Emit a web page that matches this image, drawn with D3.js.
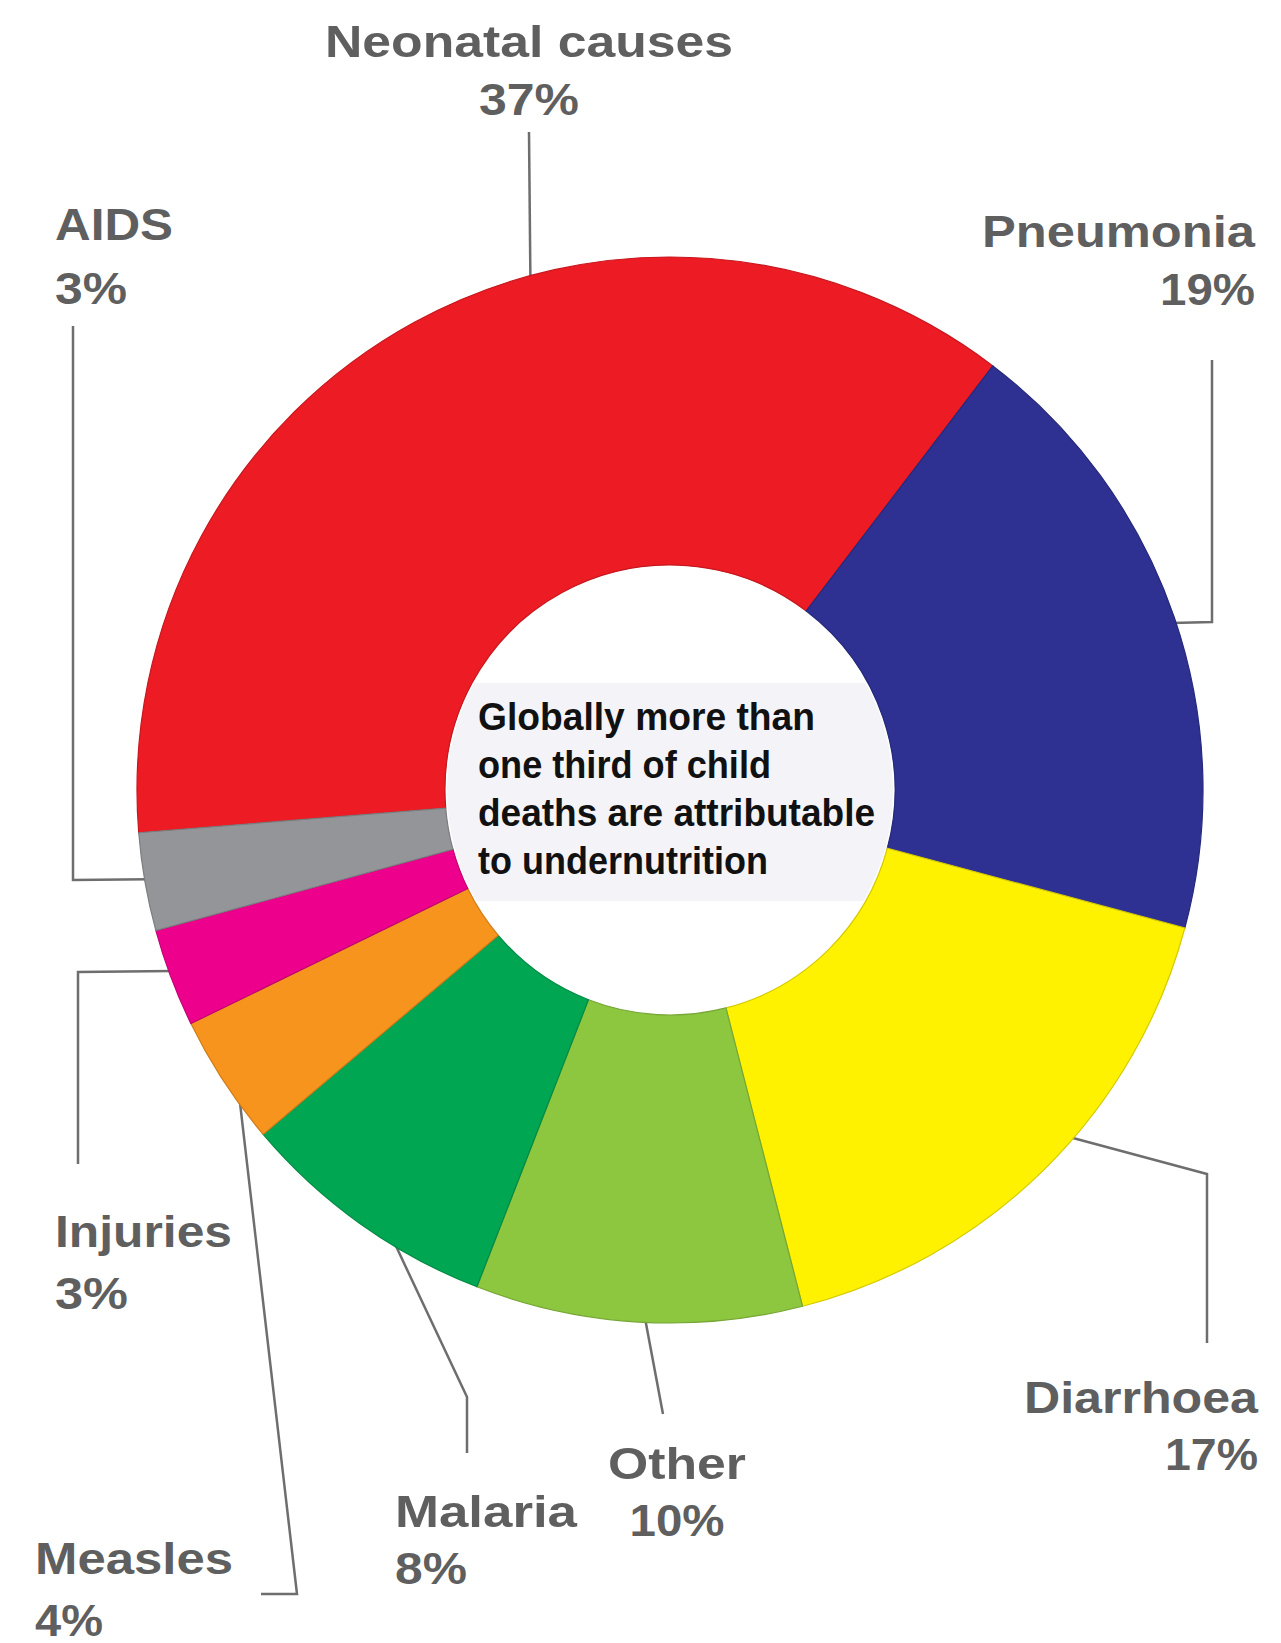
<!DOCTYPE html>
<html>
<head>
<meta charset="utf-8">
<script src="https://cdn.jsdelivr.net/npm/d3@7"></script>
<style>
  body { margin: 0; background: #fff; }
  .label { font-family: "Liberation Sans", Arial, sans-serif; font-weight: bold; fill: #5f5f5f; }
  .leader { fill: none; stroke: #6e6e6e; stroke-width: 2.5; }
  .center-text { font-family: "Liberation Sans", Arial, sans-serif; font-weight: bold; fill: #111; }
</style>
</head>
<body>
<svg id="chart"></svg>
<script>
// causes of child deaths, clockwise from the left
const causes = ["Neonatal causes", "Pneumonia", "Diarrhoea", "Other", "Malaria", "Measles", "Injuries", "AIDS"];
const shares = [37, 19, 17, 10, 8, 4, 3, 3];
const sliceColors = ["#ed1c24", "#2e3192", "#fff200", "#8dc63f", "#00a651", "#f7941d", "#ec008c", "#939598"];
const centerLines = ["Globally more than", "one third of child", "deaths are attributable", "to undernutrition"];

const width = 1281, height = 1643;
const cx = 670, cy = 790;
const outerR = 533, innerR = 225;
const rad = d => d * Math.PI / 180;
const startAngle = rad(-94.6);

// where each label sits and how its leader runs to the ring
const labelLayout = {
  "Neonatal causes": { x: 529, y: 57, dy: 58, anchor: "middle", w: [408, 100], path: [[529, 132]], attach: -15.3 },
  "AIDS":            { x: 55, y: 240, dy: 64, anchor: "start", w: [118, 72], path: [[73, 326], [73, 880]], attach: 260.3 },
  "Pneumonia":       { x: 1255, y: 247, dy: 58, anchor: "end", w: [273, 95], path: [[1212, 360], [1212, 622]], attach: 71.6 },
  "Diarrhoea":       { x: 1258, y: 1413, dy: 57, anchor: "end", w: [234, 93], path: [[1207, 1343], [1207, 1174]], attach: 131 },
  "Other":           { x: 677, y: 1479, dy: 57, anchor: "middle", w: [138, 95], path: [[663, 1414]], attach: 182.7 },
  "Malaria":         { x: 395, y: 1527, dy: 57, anchor: "start", w: [182, 72], path: [[467, 1453], [467, 1397]], attach: 211.5 },
  "Measles":         { x: 35, y: 1574, dy: 62, anchor: "start", w: [198, 68], path: [[261, 1594], [297, 1594]], attach: 234.5 },
  "Injuries":        { x: 55, y: 1247, dy: 62, anchor: "start", w: [177, 73], path: [[78, 1164], [78, 972]], attach: 250 }
};

const svg = d3.select("#chart").attr("width", width).attr("height", height);
svg.append("rect").attr("width", width).attr("height", height).attr("fill", "#fff");

const data = causes.map((c, i) => ({ cause: c, share: shares[i], color: sliceColors[i] }));

const pie = d3.pie().sort(null).value(d => d.share)
  .startAngle(startAngle).endAngle(startAngle + 2 * Math.PI);
const arc = d3.arc().innerRadius(innerR).outerRadius(outerR);

// leaders first, so the ring covers their ends
const line = d3.line();
const leaders = svg.append("g");
data.forEach(d => {
  const L = labelLayout[d.cause];
  const p = d3.pointRadial(rad(L.attach), outerR - 4);
  leaders.append("path")
    .attr("class", "leader")
    .attr("d", line(L.path.concat([[cx + p[0], cy + p[1]]])));
});

const ring = svg.append("g").attr("transform", `translate(${cx},${cy})`);
ring.selectAll("path")
  .data(pie(data))
  .join("path")
  .attr("d", arc)
  .attr("fill", d => d.data.color)
  .attr("stroke", d => d3.color(d.data.color).darker(0.5))
  .attr("stroke-width", 1.2);

// faint panel behind the centre text
svg.append("clipPath").attr("id", "hole")
  .append("circle").attr("cx", cx).attr("cy", cy).attr("r", innerR - 2);
svg.append("rect")
  .attr("x", cx - innerR).attr("y", 683)
  .attr("width", innerR * 2).attr("height", 218)
  .attr("fill", "#f4f4f8")
  .attr("clip-path", "url(#hole)");

const centerWidths = [337, 293, 397, 290];
svg.append("g").selectAll("text")
  .data(centerLines)
  .join("text")
  .attr("class", "center-text")
  .attr("x", 478)
  .attr("y", (d, i) => 730 + i * 48)
  .attr("font-size", 39)
  .attr("textLength", (d, i) => centerWidths[i])
  .attr("lengthAdjust", "spacingAndGlyphs")
  .text(d => d);

// labels
const labels = svg.append("g");
data.forEach(d => {
  const L = labelLayout[d.cause];
  [d.cause, d.share + "%"].forEach((t, k) => {
    labels.append("text")
      .attr("class", "label")
      .attr("x", L.x)
      .attr("y", L.y + k * L.dy)
      .attr("text-anchor", L.anchor)
      .attr("font-size", 45)
      .attr("textLength", L.w[k])
      .attr("lengthAdjust", "spacingAndGlyphs")
      .text(t);
  });
});
</script>
</body>
</html>
